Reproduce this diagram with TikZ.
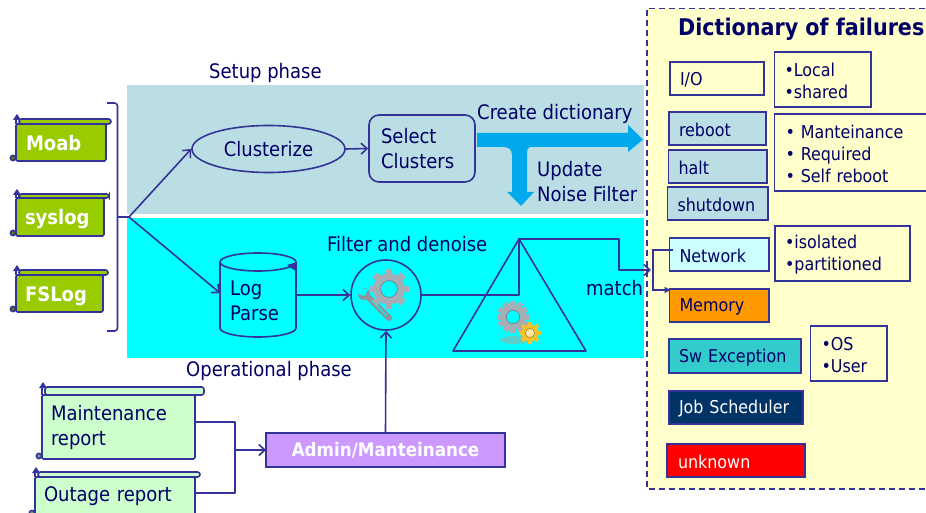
\documentclass[tikz,border=0pt]{standalone}
\usepackage{fontspec}
\setmainfont{DejaVu Sans Condensed}
\usetikzlibrary{arrows.meta,shapes.geometric,calc}
\definecolor{linec}{HTML}{333399}
\definecolor{textc}{HTML}{000066}
\definecolor{setupc}{HTML}{BADEE3}
\definecolor{opc}{HTML}{00FFFF}
\definecolor{dictc}{HTML}{FFFFCC}
\definecolor{bluea}{HTML}{00A8EC}
\definecolor{greenc}{HTML}{99CC00}
\definecolor{mintc}{HTML}{CCFFCC}
\definecolor{gearc}{HTML}{A8ACB4}
\definecolor{goldc}{HTML}{F5C22A}
\tikzset{
 txt/.style={text=textc,font=\fontsize{20}{25}\selectfont,inner sep=0pt,align=left},
 conn/.style={draw=linec,line width=1.6pt,line join=round},
 arr/.style={conn,-{Straight Barb[length=6pt,width=11pt,line width=1.6pt]}},
 fbox/.style={draw=linec,line width=1.6pt,outer sep=0pt,text=textc,font=\fontsize{17.7}{22}\selectfont,align=left},
 scrollbox/.style={fbox,rounded corners=1.5pt},
 scrollbold/.style={scrollbox,fill=greenc,text=white,font=\fontsize{20}{22}\selectfont\bfseries,text depth=0pt},
}
% name, x1,y1,x2,y2, left pad, style, text
\newcommand{\bx}[8]{%
 \pgfmathsetmacro{\bw}{#4-#2}\pgfmathsetmacro{\bh}{#5-#3}%
 \pgfmathsetmacro{\bc}{(#2+#4)/2}\pgfmathsetmacro{\bd}{(#3+#5)/2}%
 \pgfmathsetmacro{\bt}{\bw-2*#6}%
 \node[fbox,#7,inner xsep=#6pt,inner ysep=0pt,minimum width=\bw pt,minimum height=\bh pt,text width=\bt pt] (#1) at (\bc,\bd) {\rule{0pt}{16pt}#8};}
% x1,y1(top of body),roll right,roll top,y bottom, fill
\newcommand{\scrollparts}[6]{%
 \draw[linec,line width=1.6pt,fill=#6,rounded corners=2.5pt] (#1+3,#4) rectangle (#3,#2);
 \draw[linec,line width=1.6pt] (#1,#2) -- (#1,#4);
 \fill[linec] (#1-3,#4+1) -- (#1+1,#4-5) -- (#1+5,#4+1) -- cycle;
 \draw[linec,line width=1.6pt,fill=#6!60!black] (#1-3,#5-3) circle (2.6);
}
% cx,cy,R,teeth,fill,hole fill
\newcommand{\gear}[6]{%
 \fill[#5] (#1,#2) circle (#3*0.78);
 \foreach \a in {1,...,#4}{
  \fill[#5,rotate around={360/#4*\a:(#1,#2)}] (#1+#3*0.7,#2-#3*0.17) rectangle (#1+#3,#2+#3*0.17);}
 \fill[#6] (#1,#2) circle (#3*0.42);
 \draw[#5!65!black,line width=.5pt] (#1,#2) circle (#3*0.42);
}
\begin{document}
\begin{tikzpicture}[x=1pt,y=-1pt]
\clip (0,0) rectangle (926,513);
\fill[white] (0,0) rectangle (926,513);
% panels
\fill[setupc] (127,85) rectangle (644,214);
\fill[opc] (127,218) rectangle (644,358);
\fill[dictc] (647,8.5) rectangle (935,489);
\draw[linec,line width=1.6pt,dash pattern=on 6pt off 4pt] (935,8.5) -- (647,8.5) -- (647,489) -- (935,489);
\node[font=\fontsize{23}{26}\selectfont\bfseries,text=textc,inner sep=0pt,anchor=west] (dicttitle) at (678,29.5) {Dictionary of failures};
% phase titles
\node[txt,anchor=west] (setuplbl) at (209,73) {Setup phase};
\node[txt,anchor=west] (oplbl) at (186,371) {Operational phase};
\node[txt,anchor=west] (filterlbl) at (327,244) {Filter and denoise};
\node[txt,anchor=west] (matchlbl) at (586,288) {match};
\node[txt,anchor=west] (createlbl) at (477,114) {Create dictionary};
\node[txt,anchor=west] (updatelbl) at (537,182) {Update\\Noise Filter};
% source scrolls
\scrollparts{16}{124}{111}{119}{161}{greenc}
\bx{moab}{16}{124}{106}{161}{10}{scrollbold}{Moab}
\scrollparts{16}{198}{109}{194}{236}{greenc}
\bx{syslog}{16}{198}{104}{236}{9}{scrollbold}{syslog}
\scrollparts{16}{275}{108}{270}{312}{greenc}
\bx{fslog}{16}{275}{103}{312}{9}{scrollbold}{FSLog}
% bracket
\coordinate (brtop) at (107,103);
\coordinate (brbot) at (107,331);
\coordinate (brmid) at (129,217);
\draw[conn,rounded corners=3pt] (brtop) -- (117.5,103) -- (117.5,331) -- (brbot);
\draw[conn] (117.5,217) -- (brmid);
% clusterize etc
\node[ellipse,draw=linec,line width=1.6pt,minimum width=153pt,minimum height=47pt,inner sep=0pt,txt] (cluster) at (268.5,149) {Clusterize};
\node[draw=linec,line width=1.6pt,rounded corners=10pt,minimum width=106pt,minimum height=67pt,txt,text width=82pt,inner xsep=12pt] (select) at (422,148.5) {Select\\Clusters};
\draw[arr] (brmid) -- (cluster.west);
\draw[arr] (cluster.east) -- (select.west);
% big arrows
\coordinate (bigstart) at (477,140);
\fill[bluea] (bigstart |- 0,133) -- (628,133) -- (628,125) -- (643,139.5) -- (628,152) -- (628,147)
  -- (530,147) .. controls (528,148) and (527,149) .. (527,152) -- (527,192) -- (534,192) -- (521,206) -- (507,192) -- (512,192)
  -- (512,155) .. controls (512,149) and (508,147) .. (503,147) -- (bigstart |- 0,147) -- cycle;
% log parse
\draw[linec,line width=1.6pt,fill=opc] (220,262) -- (220,328) arc[start angle=180,end angle=0,x radius=38,y radius=9] -- (296,262) arc[start angle=360,end angle=180,x radius=38,y radius=9];
\draw[linec,line width=1.6pt] (220,262) arc[start angle=180,end angle=0,x radius=38,y radius=9];
\fill[linec] (297,262) -- (295,270.5) -- (287,265) -- cycle;
\node[txt,anchor=west] (logparse) at (230,301) {Log\\Parse};
\coordinate (cylw) at (220,293);
\coordinate (cyle) at (296,295);
\draw[arr] (brmid) -- (cylw);
% filter circle
\node[circle,draw=linec,line width=1.6pt,minimum size=70pt,inner sep=0pt] (filter) at (386,295) {};
\draw[arr] (cyle) -- (filter.west);
\draw[gearc!85!black,line width=6pt,line cap=round] (367,296) -- (389,318);
\draw[opc,line width=1pt] (371,300) -- (387,316);
\gear{389}{289}{20}{8}{gearc}{opc}
\fill[gearc!85!black] (364,294) circle (6);
\fill[opc] (360,288) -- (368,289) -- (365,296) -- (358,294) -- cycle;
% triangle
\coordinate (apex) at (519,239);
\draw[linec,line width=1.6pt,line join=round] (apex) -- (453,351) -- (586,351) -- cycle;
\fill[black!35,opacity=.55] (515,340) ellipse (15 and 4);
\gear{513}{317}{16}{12}{gearc}{opc}
\gear{530}{333}{11}{8}{goldc}{white!60!goldc}
\coordinate (dictin) at (651,270);
\draw[arr] (filter.east) -- (519,295) -- (apex) -- (619,239) -- (619,270) -- (dictin);
% reports
\scrollparts{42}{395}{204}{387}{459}{mintc}
\bx{maint}{42}{395}{195}{459}{9}{scrollbox,fill=mintc,font=\fontsize{20}{25}\selectfont}{Maintenance\\report}
\scrollparts{35}{477}{200}{472}{516}{mintc}
\bx{outage}{35}{477}{195}{530}{9}{scrollbox,fill=mintc,font=\fontsize{20}{25}\selectfont,text depth=20pt}{Outage report}
\node[fbox,fill={rgb,255:red,204;green,153;blue,255},minimum width=239pt,minimum height=34pt,inner sep=0pt,text=white,font=\fontsize{18.6}{20}\selectfont\bfseries] (admin) at (385.5,450) {Admin/Manteinance};
\coordinate (rj) at (235,450);
\draw[conn] ([yshift=5pt]maint.east) -| (rj);
\draw[conn] (outage.east |- 0,493) -| (rj);
\draw[arr] (rj) -- (admin.west);
\draw[arr] (admin.north) -- (filter.south);
% dictionary
\bx{io}{670}{62}{764}{95}{10}{}{I/O}
\bx{local}{774.5}{52}{871}{107}{10}{}{•Local\\•shared}
\bx{reboot}{669}{112}{766}{145}{10}{fill=setupc}{reboot}
\bx{halt}{668.5}{150}{767}{183}{10}{fill=setupc}{halt}
\bx{shutdown}{667.5}{187}{768}{220}{10}{fill=setupc}{shutdown}
\bx{maintbox}{774.5}{114}{935}{191}{11}{}{• Manteinance\\• Required\\• Self reboot}
\bx{network}{669.5}{238}{769}{271}{10}{fill={rgb,255:red,204;green,255;blue,255}}{Network}
\bx{isolated}{775}{226}{910}{281}{10}{}{•isolated\\•partitioned}
\bx{memory}{669.5}{289}{769}{322}{10}{fill={rgb,255:red,255;green,153;blue,0}}{Memory}
\bx{swex}{669}{339}{801}{373}{10}{fill={rgb,255:red,51;green,204;blue,204}}{Sw Exception}
\bx{osbox}{810.5}{326}{887}{381}{11}{}{•OS\\•User}
\bx{job}{669}{391}{803}{424}{10}{fill={rgb,255:red,0;green,51;blue,102},text=white}{Job Scheduler}
\bx{unknown}{667}{444}{805}{477}{11}{fill=red,text=white}{unknown}
\draw[linec,line width=1.3pt,-{Triangle[length=6pt,width=6pt]}] ([xshift=3pt,yshift=4.5pt]network.west) -- (653,250) -- (653,290) -- ([yshift=15.5pt,xshift=1pt]memory.west);
\end{tikzpicture}
\end{document}
